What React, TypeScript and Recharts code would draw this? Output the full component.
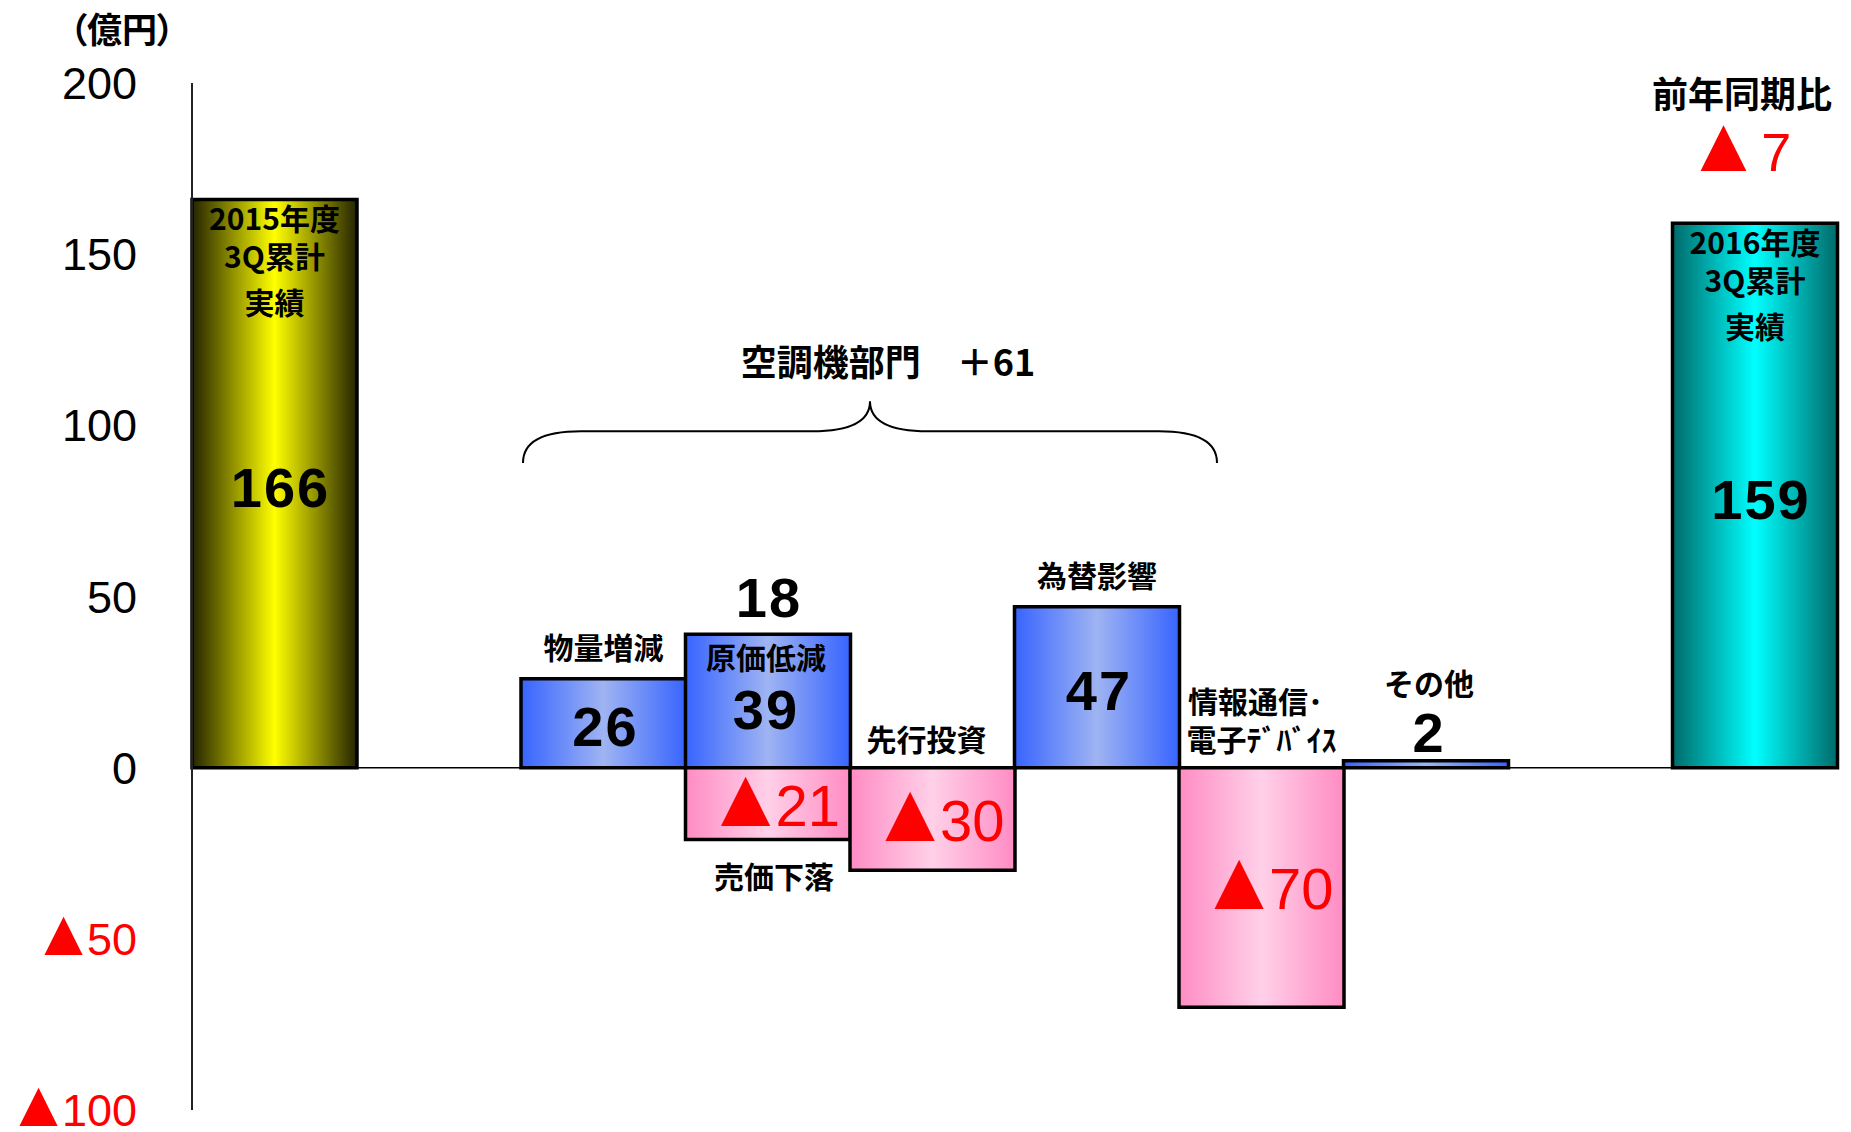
import React from "react";
import {
  Bar,
  BarChart,
  Cell,
  LabelList,
  ReferenceArea,
  ReferenceLine,
  XAxis,
  YAxis,
} from "recharts";

// 営業利益 増減要因 (2015年度3Q累計 → 2016年度3Q累計)
const categories = [
  "2015年度3Q累計",
  "gapL",
  "物量増減",
  "原価低減",
  "先行投資",
  "為替影響",
  "情報通信・電子デバイス",
  "その他",
  "gapR",
  "2016年度3Q累計",
];
const totals = [166, null, null, null, null, null, null, null, null, 159];
const increases = [null, null, 26, 39, null, 47, null, 2, null, null];
const decreases = [null, null, null, -21, -30, null, -70, null, null, null];
const captions = [
  ["2015年度", "3Q累計", "実績"],
  [],
  ["物量増減"],
  ["原価低減"],
  ["先行投資"],
  ["為替影響"],
  ["情報通信･", "電子ﾃﾞﾊﾞｲｽ"],
  ["その他"],
  [],
  ["2016年度", "3Q累計", "実績"],
];
const lowerCaptions = [[], [], [], ["売価下落"], [], [], [], [], [], []];
const yTicks = [200, 150, 100, 50, 0, -50, -100];
const groupName = "空調機部門";
const groupFrom = 2;
const groupTo = 5;

const W = 1851;
const H = 1132;
const JP = '"Noto Sans CJK JP", "Noto Sans", sans-serif';
const NUM = '"Liberation Sans", Arial, sans-serif';
const RED = "#ff0000";

const data = categories.map((name, i) => ({
  name,
  total: totals[i],
  up: increases[i],
  down: decreases[i],
}));

const sum = (arr: (number | null)[]) =>
  arr.reduce((a: number, b) => a + (b ?? 0), 0);
const groupTotal =
  sum(increases.slice(groupFrom, groupTo + 1)) +
  sum(decreases.slice(groupFrom, groupTo + 1));
const yoy = (totals[9] as number) - (totals[0] as number);

// ▲ is drawn larger than the digits, like the original slide
const signed = (v: number, size: number, gap = 0) =>
  v < 0
    ? [
        <tspan key="t" fontSize={size * 1.45}>
          ▲
        </tspan>,
        <tspan key="n" dx={gap - size * 0.2}>
          {-v}
        </tspan>,
      ]
    : `${v}`;

function box(p: any) {
  const vb = p.viewBox ?? p;
  const x = Number(vb.x ?? p.x);
  const y = Number(vb.y ?? p.y);
  const w = Number(vb.width ?? p.width);
  const h = Number(vb.height ?? p.height);
  const top = Math.min(y, y + h);
  const bottom = Math.max(y, y + h);
  return { cx: x + w / 2, top, bottom, mid: (top + bottom) / 2 };
}

const idx = (p: any) => categories.indexOf(p.value);

const jpText = (x: number, y: number, t: string, key?: any) => (
  <text
    key={key}
    x={x}
    y={y}
    textAnchor="middle"
    dominantBaseline="central"
    fontFamily={JP}
    fontWeight={700}
    fontSize={30}
    fill="#000"
  >
    {t}
  </text>
);

const bigNum = (x: number, y: number, v: number) => (
  <text
    x={x}
    y={y + 20}
    textAnchor="middle"
    fontFamily={NUM}
    fontWeight={700}
    fontSize={56}
    letterSpacing={2}
    fill="#000"
  >
    {v}
  </text>
);

const redNum = (x: number, y: number, v: number) => (
  <text
    x={x}
    y={y + 21}
    textAnchor="middle"
    fontFamily={NUM}
    fontSize={58}
    fill={RED}
  >
    {signed(v, 58)}
  </text>
);

function TotalLabel(p: any) {
  const i = idx(p);
  const v = totals[i];
  if (v == null) return null;
  const { cx, top, mid } = box(p);
  const offs = [18, 56, 102];
  return (
    <g>
      {captions[i].map((t, k) => jpText(cx, top + offs[k], t, k))}
      {bigNum(cx + 6, mid + 3, v)}
    </g>
  );
}

function UpLabel(p: any) {
  const i = idx(p);
  const v = increases[i];
  if (v == null) return null;
  const { cx, top, bottom, mid } = box(p);
  const d = decreases[i];
  if (d != null) {
    return (
      <g>
        {bigNum(cx + 1, top - 37, v + d)}
        {jpText(cx - 2, top + 22, captions[i][0])}
        {bigNum(cx - 2, top + 75, v)}
      </g>
    );
  }
  if (bottom - top < 60) {
    return (
      <g>
        {bigNum(cx + 3, top - 29, v)}
        {jpText(cx + 3, top - 79, captions[i][0])}
      </g>
    );
  }
  return (
    <g>
      {jpText(cx, top - 33, captions[i][0])}
      {bigNum(cx + 2, mid + 3, v)}
    </g>
  );
}

function DownLabel(p: any) {
  const i = idx(p);
  const v = decreases[i];
  if (v == null) return null;
  const { cx, top, bottom, mid } = box(p);
  const lines = increases[i] != null ? [] : captions[i];
  return (
    <g>
      {redNum(cx + 4, mid + 1, v)}
      {lowerCaptions[i].map((t, k) =>
        jpText(cx + 6, bottom + 35 + k * 38, t, "l" + k)
      )}
      {lines.map((t, k) =>
        jpText(cx - 6 + k * 6, top - 30 - (lines.length - 1 - k) * 38, t, k)
      )}
    </g>
  );
}

function YTick(p: any) {
  const v = p.payload.value;
  return (
    <text
      x={p.x}
      y={p.y + 16}
      textAnchor="end"
      fontFamily={NUM}
      fontSize={45}
      fill={v < 0 ? RED : "#000"}
    >
      {signed(v, 45)}
    </text>
  );
}

function Brace(p: any) {
  const x = Number(p.x);
  const y = Number(p.y);
  const w = Number(p.width);
  const h = Number(p.height);
  const top = Math.min(y, y + h);
  const bottom = Math.max(y, y + h);
  const L = x + 2;
  const R = x + w + 38;
  const tip = (L + R) / 2;
  const m = top + 30;
  const r = 58;
  const d = `M${L},${bottom} Q${L},${m} ${L + r},${m} L${tip - r},${m} Q${tip},${m} ${tip},${top} Q${tip},${m} ${tip + r},${m} L${R - r},${m} Q${R},${m} ${R},${bottom}`;
  return (
    <g>
      <path d={d} fill="none" stroke="#000" strokeWidth={2} />
      <text
        x={tip + 18}
        y={top - 41}
        textAnchor="middle"
        dominantBaseline="central"
        fontFamily={JP}
        fontWeight={700}
        fontSize={36}
        fill="#000"
      >
        {`${groupName}　＋${groupTotal}`}
      </text>
    </g>
  );
}

const grad = (id: string, edge: string, center: string) => (
  <linearGradient id={id} x1="0" y1="0" x2="1" y2="0">
    <stop offset="0%" stopColor={edge} />
    <stop offset="50%" stopColor={center} />
    <stop offset="100%" stopColor={edge} />
  </linearGradient>
);

export default function App() {
  return (
    <div
      style={{
        position: "absolute",
        left: 0,
        top: 0,
        width: W,
        height: H,
        background: "#fff",
        fontFamily: JP,
      }}
    >
      <BarChart
        width={W}
        height={H}
        data={data}
        margin={{ top: 83, right: 14, bottom: 22, left: 0 }}
        barCategoryGap={0}
        barGap={0}
        stackOffset="sign"
      >
        <defs>
          {grad("gYellow", "#242400", "#ffff00")}
          {grad("gCyan", "#006a6a", "#00ffff")}
          {grad("gBlue", "#3764ff", "#9fb4f2")}
          {grad("gPink", "#ff8cc4", "#ffd0e8")}
        </defs>
        <XAxis dataKey="name" hide />
        <YAxis
          domain={[-100, 200]}
          ticks={yTicks}
          interval={0}
          width={192}
          axisLine={{ stroke: "#222", strokeWidth: 2 }}
          tickLine={false}
          tickSize={0}
          tickMargin={55}
          tick={YTick}
        />
        <ReferenceLine y={0} stroke="#000" strokeWidth={1.5} />
        <ReferenceArea
          x1={categories[groupFrom]}
          x2={categories[groupTo]}
          y1={89}
          y2={107}
          fill="none"
          stroke="none"
          shape={Brace}
        />
        <Bar
          dataKey="total"
          stackId="a"
          stroke="#000"
          strokeWidth={3.5}
          isAnimationActive={false}
        >
          {data.map((_, i) => (
            <Cell key={i} fill={i === 0 ? "url(#gYellow)" : "url(#gCyan)"} />
          ))}
          <LabelList dataKey="name" content={TotalLabel} />
        </Bar>
        <Bar
          dataKey="up"
          stackId="a"
          fill="url(#gBlue)"
          stroke="#000"
          strokeWidth={3.5}
          isAnimationActive={false}
        >
          <LabelList dataKey="name" content={UpLabel} />
        </Bar>
        <Bar
          dataKey="down"
          stackId="a"
          fill="url(#gPink)"
          stroke="#000"
          strokeWidth={3.5}
          isAnimationActive={false}
        >
          <LabelList dataKey="name" content={DownLabel} />
        </Bar>
      </BarChart>
      <svg
        width={W}
        height={H}
        style={{ position: "absolute", left: 0, top: 0, pointerEvents: "none" }}
      >
        <text
          x={122}
          y={27}
          textAnchor="middle"
          dominantBaseline="central"
          fontFamily={JP}
          fontWeight={700}
          fontSize={35}
          style={{ fontFeatureSettings: '"palt"' }}
        >
          （億円）
        </text>
        <text
          x={1742}
          y={92}
          textAnchor="middle"
          dominantBaseline="central"
          fontFamily={JP}
          fontWeight={700}
          fontSize={36}
        >
          前年同期比
        </text>
        <text
          x={1738}
          y={171}
          textAnchor="middle"
          fontFamily={NUM}
          fontSize={54}
          fill={RED}
        >
          {signed(yoy, 54, 10)}
        </text>
      </svg>
    </div>
  );
}
